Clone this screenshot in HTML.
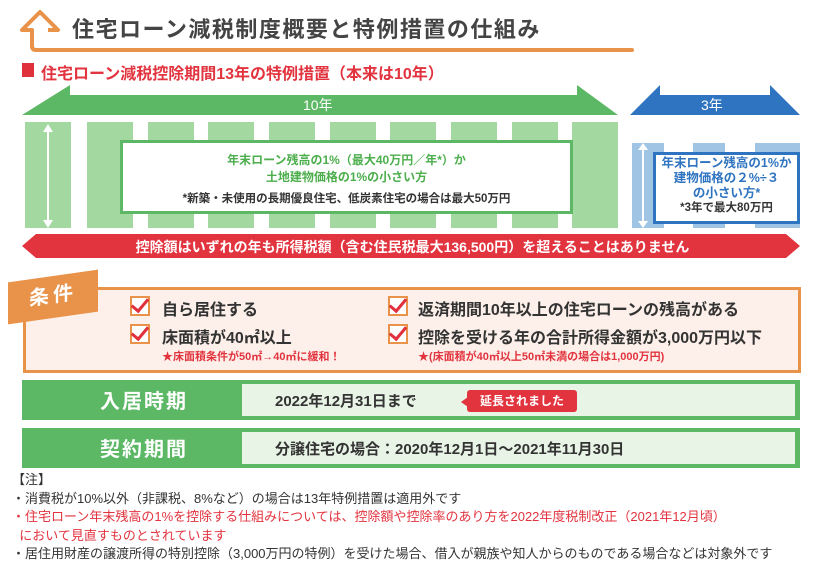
<!DOCTYPE html>
<html><head><meta charset="utf-8"><style>
body{margin:0;width:825px;height:581px;background:#fff;position:relative;overflow:hidden;font-family:"Liberation Sans","Noto Sans CJK JP",sans-serif}
.a{position:absolute;white-space:nowrap}
.col{position:absolute;top:122px;height:106px;width:46px;background:#a3d9a0}
.bcol{position:absolute;top:143px;height:85px;width:32px;background:#a0c4e4}
.chk{position:absolute;width:16px;height:16px;border:2px solid #e8924a;background:#fff}
.chk:after{content:"";position:absolute;left:3px;top:-3px;width:7px;height:14px;border-right:3px solid #e0303c;border-bottom:3px solid #e0303c;transform:rotate(40deg)}
</style></head><body>
<svg class="a" style="left:0;top:0" width="825" height="581">
<path d="M32 48 L32 30 L22 30 L40 12 L58 30 L48 30" fill="none" stroke="#e8924a" stroke-width="4" stroke-linejoin="round"/>
<path d="M32 46 Q32 50 36 50 L632 50" fill="none" stroke="#e8924a" stroke-width="4" stroke-linecap="round"/>
<rect x="22" y="63" width="12" height="14" fill="#e0303c"/>
<polygon points="22,115 70,85 70,95 577,95 577,85 618,115" fill="#5cb865"/>
<polygon points="630,115 660,85 660,95 770,95 770,85 800,115" fill="#2f74c0"/>
<polygon points="22,246 36,234 786,234 800,246 786,258 36,258" fill="#e2343f"/>
</svg>
<div class="a" style="left:72px;top:12px;font-size:22px;color:#444;letter-spacing:1.5px;font-weight:bold">住宅ローン減税制度概要と特例措置の仕組み</div>
<div class="a" style="left:41px;top:60px;font-size:16px;color:#e2343f;font-weight:bold">住宅ローン減税控除期間13年の特例措置（本来は10年）</div>
<div class="a" style="left:303px;top:95px;font-size:14px;color:#fff">10年</div>
<div class="a" style="left:701px;top:95px;font-size:14px;color:#fff">3年</div>
<div class="col" style="left:25px"></div><div class="col" style="left:87px"></div><div class="col" style="left:148px"></div><div class="col" style="left:208px"></div><div class="col" style="left:269px"></div><div class="col" style="left:330px"></div><div class="col" style="left:390px"></div><div class="col" style="left:451px"></div><div class="col" style="left:512px"></div><div class="col" style="left:572px"></div>
<svg class="a" style="left:40px;top:124px" width="16" height="104"><line x1="8" y1="4" x2="8" y2="100" stroke="#fff" stroke-width="2"/><polygon points="8,0 3,8 13,8" fill="#fff"/><polygon points="8,104 3,96 13,96" fill="#fff"/></svg>
<div class="a" style="left:120px;top:140px;width:447px;height:68px;background:#fff;border:3px solid #5cb865;text-align:center">
<div style="font-size:12px;color:#4cae4c;margin-top:9px;line-height:17px;font-weight:bold">年末ローン残高の1%（最大40万円／年*）か<br>土地建物価格の1%の小さい方</div>
<div style="font-size:11.5px;color:#333;margin-top:4px;font-weight:bold">*新築・未使用の長期優良住宅、低炭素住宅の場合は最大50万円</div></div>
<div class="bcol" style="left:632px"></div><div class="bcol" style="left:693px"></div><div class="bcol" style="left:755px;width:45px"></div>
<svg class="a" style="left:636px;top:143px" width="14" height="85"><line x1="7" y1="4" x2="7" y2="81" stroke="#fff" stroke-width="2"/><polygon points="7,0 2,7 12,7" fill="#fff"/><polygon points="7,85 2,78 12,78" fill="#fff"/></svg>
<div class="a" style="left:653px;top:152px;width:141px;height:66px;background:#fff;border:3px solid #2f74c0;text-align:center;font-size:12.5px;line-height:15px;font-weight:bold">
<div style="color:#2f74c0;margin-top:1px">年末ローン残高の1%か<br>建物価格の２%÷３<br>の小さい方*</div><div style="color:#333;font-size:11.5px">*3年で最大80万円</div></div>
<div class="a" style="left:0;width:825px;top:237px;text-align:center;font-size:14px;color:#fff;font-weight:bold">控除額はいずれの年も所得税額（含む住民税最大136,500円）を超えることはありません</div>
<div class="a" style="left:23px;top:287px;width:772px;height:80px;background:#fdf0ea;border:3px solid #e8924a"></div>
<div class="a" style="left:8px;top:276px;width:90px;height:42px;background:#e8924a;transform:skewY(-8deg);color:#fff;font-size:20px;text-align:center;line-height:40px;letter-spacing:4px;font-weight:bold">条件</div>
<div class="chk" style="left:130px;top:296px"></div><div class="a" style="left:162px;top:296px;font-size:16px;color:#333;font-weight:bold">自ら居住する</div>
<div class="chk" style="left:130px;top:324px"></div><div class="a" style="left:162px;top:324px;font-size:16px;color:#333;font-weight:bold">床面積が40㎡以上</div>
<div class="a" style="left:162px;top:348px;font-size:11px;color:#e2343f;font-weight:bold">★床面積条件が50㎡→40㎡に緩和！</div>
<div class="chk" style="left:388px;top:296px"></div><div class="a" style="left:418px;top:296px;font-size:16px;color:#333;font-weight:bold">返済期間10年以上の住宅ローンの残高がある</div>
<div class="chk" style="left:388px;top:324px"></div><div class="a" style="left:418px;top:324px;font-size:16px;color:#333;font-weight:bold">控除を受ける年の合計所得金額が3,000万円以下</div>
<div class="a" style="left:418px;top:348px;font-size:11px;color:#e2343f;font-weight:bold">★(床面積が40㎡以上50㎡未満の場合は1,000万円)</div>
<div class="a" style="left:22px;top:380px;width:778px;height:40px;background:#5cb865"></div>
<div class="a" style="left:242px;top:384px;width:553px;height:32px;background:#e8f4e6"></div>
<div class="a" style="left:100px;top:385px;font-size:20px;color:#fff;letter-spacing:2px;font-weight:bold">入居時期</div>
<div class="a" style="left:275px;top:390px;font-size:15px;color:#333;font-weight:bold">2022年12月31日まで</div>
<div class="a" style="left:467px;top:390px;width:110px;height:22px;background:#e2343f;border-radius:3px;color:#fff;font-size:12px;font-weight:bold;text-align:center;line-height:22px">延長されました</div>
<div class="a" style="left:461px;top:397px;width:0;height:0;border-top:5px solid transparent;border-bottom:5px solid transparent;border-right:7px solid #e2343f"></div>
<div class="a" style="left:22px;top:428px;width:778px;height:40px;background:#5cb865"></div>
<div class="a" style="left:242px;top:432px;width:553px;height:32px;background:#e8f4e6"></div>
<div class="a" style="left:100px;top:433px;font-size:20px;color:#fff;letter-spacing:2px;font-weight:bold">契約期間</div>
<div class="a" style="left:275px;top:438px;font-size:15px;color:#333;font-weight:bold">分譲住宅の場合：2020年12月1日〜2021年11月30日</div>
<div class="a" style="left:12px;top:471px;font-size:13px;color:#333;line-height:18.5px">【注】<br>・消費税が10%以外（非課税、8%など）の場合は13年特例措置は適用外です<br><span style="color:#e2343f">・住宅ローン年末残高の1%を控除する仕組みについては、控除額や控除率のあり方を2022年度税制改正（2021年12月頃）<br>&nbsp;&nbsp;において見直すものとされています</span><br>・居住用財産の譲渡所得の特別控除（3,000万円の特例）を受けた場合、借入が親族や知人からのものである場合などは対象外です</div>
</body></html>
